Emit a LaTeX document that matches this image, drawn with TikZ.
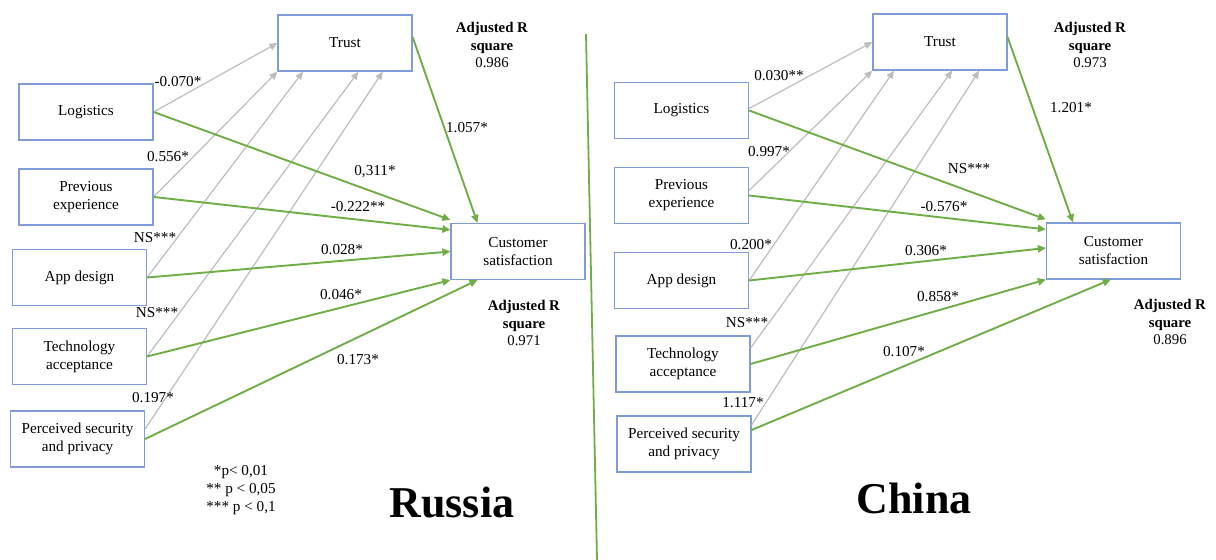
\documentclass[tikz,border=0pt]{standalone}
\usepackage{fontspec}
\setmainfont{Liberation Serif}
\usetikzlibrary{arrows.meta,positioning,calc}
\definecolor{semBlue}{HTML}{7F9BD8}
\definecolor{semGreen}{HTML}{70AD47}
\definecolor{semGrey}{HTML}{BDBDBD}
\tikzset{
  var/.style={draw=semBlue, line width=0.6pt, fill=white, align=center,
              minimum width=67pt, minimum height=28pt, inner sep=1pt,
              font=\fontsize{7.6}{9}\selectfont},
  coef/.style={font=\fontsize{7.6}{9}\selectfont, inner sep=1pt},
  rsq/.style={font=\fontsize{7.4}{8.6}\selectfont, align=center, inner sep=1pt},
  title/.style={font=\fontsize{22}{24}\selectfont\bfseries, inner sep=0pt},
  totrust/.style={-{Triangle[length=4pt,width=3.4pt]}, draw=semGrey, line width=0.6pt},
  tocs/.style={-{Triangle[length=4pt,width=3.6pt]}, draw=semGreen, line width=0.95pt},
}

\begin{document}
\begin{tikzpicture}[x=0.5pt,y=-0.5pt]
  \useasboundingbox (0,0) rectangle (1216,560);
  % divider
  \coordinate (divtop) at (586,34);
  \coordinate (divbot) at (597,560);
  \draw[semGreen, line width=0.9pt] (divtop) -- (divbot);

  % ---------------- Russia ----------------
  \node[var] (trustR) at (345,43) {Trust};
  \node[var] (logR) at (86,112) {Logistics};
  \node[var] (prevR) at (86,197) {Previous\\experience};
  \node[var] (appR) at (79.5,277.5) {App design};
  \node[var] (techR) at (79.5,356.5) {Technology\\acceptance};
  \node[var] (perR) at (77.5,439) {Perceived security\\and privacy};
  \node[var] (csR) at (518,251.5) {Customer\\satisfaction};
  % paths to trust
  \draw[totrust] (logR.east) -- (trustR.west);
  \draw[totrust] (prevR.east) -- (trustR.south west);
  \draw[totrust] (appR.east) -- ($(trustR.south west)!0.19!(trustR.south east)$);
  \draw[totrust] (techR.east) -- ($(trustR.south west)!0.60!(trustR.south east)$);
  \draw[totrust] ($(perR.east)+(0,-10)$) -- ($(trustR.south west)!0.78!(trustR.south east)$);
  % paths to satisfaction
  \draw[tocs] (logR.east) -- ($(csR.north west)+(0,-3)$);
  \draw[tocs] (prevR.east) -- ($(csR.north west)+(0,7)$);
  \draw[tocs] (appR.east) -- (csR.west);
  \draw[tocs] (techR.east) -- (csR.south west);
  \draw[tocs] (perR.east) -- ($(csR.south west)!0.2!(csR.south east)$);
  \draw[tocs] ($(trustR.east)+(0,-6)$) -- ($(csR.north west)!0.2!(csR.north east)$);
  % coefficients
  \node[coef] (cLogTR) at (178,82) {-0.070*};
  \node[coef] (cPrevTR) at (168,157) {0.556*};
  \node[coef] (cAppTR) at (155,238) {NS***};
  \node[coef] (cTechTR) at (157,313) {NS***};
  \node[coef] (cPerTR) at (153,398) {0.197*};
  \node[coef] (cTrCsR) at (467,128) {1.057*};
  \node[coef] (cLogCsR) at (375,172) {0,311*};
  \node[coef] (cPrevCsR) at (358,207) {-0.222**};
  \node[coef] (cAppCsR) at (342,250) {0.028*};
  \node[coef] (cTechCsR) at (341,295) {0.046*};
  \node[coef] (cPerCsR) at (358,360) {0.173*};
  \node[rsq] (rTrR) at (492,45) {\textbf{Adjusted R}\\\textbf{square}\\0.986};
  \node[rsq] (rCsR) at (524,323) {\textbf{Adjusted R}\\\textbf{square}\\0.971};
  \node[coef, align=center, font=\fontsize{7.6}{9}\selectfont] (sig) at (241,490)
       {*p< 0,01\\** p < 0,05\\*** p < 0,1};
  \node[title] (ru) at (452,503) {Russia};

  % ---------------- China ----------------
  \node[var] (trustC) at (940,42) {Trust};
  \node[var] (logC) at (681.5,110.5) {Logistics};
  \node[var] (prevC) at (681.5,195.5) {Previous\\experience};
  \node[var] (appC) at (681.5,280.5) {App design};
  \node[var] (techC) at (683,364) {Technology\\acceptance};
  \node[var] (perC) at (684,444) {Perceived security\\and privacy};
  \node[var] (csC) at (1113.5,251) {Customer\\satisfaction};
  % paths to trust
  \draw[totrust] ($(logC.east)+(0,-2)$) -- (trustC.west);
  \draw[totrust] ($(prevC.east)+(0,-5)$) -- (trustC.south west);
  \draw[totrust] (appC.east) -- ($(trustC.south west)!0.16!(trustC.south east)$);
  \draw[totrust] ($(techC.east)+(0,-16)$) -- ($(trustC.south west)!0.59!(trustC.south east)$);
  \draw[totrust] ($(perC.east)+(0,-19)$) -- ($(trustC.south west)!0.79!(trustC.south east)$);
  % paths to satisfaction
  \draw[tocs] (logC.east) -- ($(csC.north west)+(0,-3)$);
  \draw[tocs] (prevC.east) -- ($(csC.north west)+(0,7)$);
  \draw[tocs] (appC.east) -- ($(csC.west)+(0,-3)$);
  \draw[tocs] (techC.east) -- (csC.south west);
  \draw[tocs] ($(perC.east)+(0,-14)$) -- ($(csC.south west)!0.48!(csC.south east)$);
  \draw[tocs] ($(trustC.east)+(0,-5)$) -- ($(csC.north west)!0.2!(csC.north east)$);
  % coefficients
  \node[coef] (cLogTC) at (779,76) {0.030**};
  \node[coef] (cPrevTC) at (769,152) {0.997*};
  \node[coef] (cAppTC) at (751,245) {0.200*};
  \node[coef] (cTechTC) at (747,323) {NS***};
  \node[coef] (cPerTC) at (743,403) {1.117*};
  \node[coef] (cTrCsC) at (1071,108) {1.201*};
  \node[coef] (cLogCsC) at (969,169) {NS***};
  \node[coef] (cPrevCsC) at (944,207) {-0.576*};
  \node[coef] (cAppCsC) at (926,251) {0.306*};
  \node[coef] (cTechCsC) at (938,297) {0.858*};
  \node[coef] (cPerCsC) at (904,352) {0.107*};
  \node[rsq] (rTrC) at (1090,45) {\textbf{Adjusted R}\\\textbf{square}\\0.973};
  \node[rsq] (rCsC) at (1170,322) {\textbf{Adjusted R}\\\textbf{square}\\0.896};
  \node[title] (cn) at (914,498) {China};
\end{tikzpicture}
\end{document}
